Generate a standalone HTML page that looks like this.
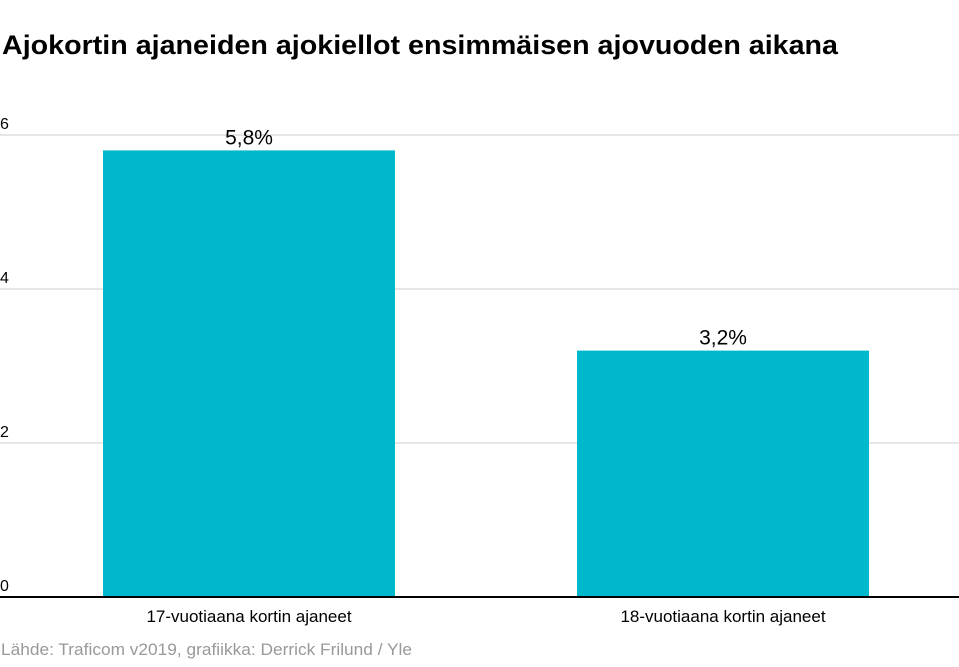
<!DOCTYPE html>
<html><head><meta charset="utf-8"><style>
body{margin:0;background:#fff;width:959px;height:662px;overflow:hidden;font-family:"Liberation Sans",sans-serif}
</style></head><body>
<svg width="959" height="662">
<text x="2" y="54" font-size="27" font-weight="bold" fill="#000" textLength="836" lengthAdjust="spacingAndGlyphs">Ajokortin ajaneiden ajokiellot ensimmäisen ajovuoden aikana</text>
<g id="grid"></g><g id="bars"></g>
<text x="1" y="655" font-size="17" fill="#999" textLength="411" lengthAdjust="spacingAndGlyphs">Lähde: Traficom v2019, grafiikka: Derrick Frilund / Yle</text>
</svg>
<script>
const categories=["17-vuotiaana kortin ajaneet","18-vuotiaana kortin ajaneet"];
const values=[5.8,3.2];
const labels=["5,8%","3,2%"];
const ticks=[0,2,4,6];
const y0=597,pxPerUnit=(597-135)/6;
const y=v=>y0-v*pxPerUnit;
const ns="http://www.w3.org/2000/svg";
const mk=(t,a,p)=>{const e=document.createElementNS(ns,t);for(const k in a)e.setAttribute(k,a[k]);p.appendChild(e);return e;};
const g=document.getElementById('grid'),b=document.getElementById('bars');
ticks.forEach(t=>{
 if(t>0){const l=mk('line',{x1:0,x2:959,y1:y(t),y2:y(t),stroke:'#ccc','stroke-width':1},g);
 
 }
 const tx=mk('text',{x:0,y:y(t)-6,'font-size':16,fill:'#000'},g);tx.textContent=t;
 
 
});
const bx=[103,577],bw=292;
values.forEach((v,i)=>{
 const r=mk('rect',{x:bx[i],y:y(v),width:bw,height:y0-y(v),fill:'#00b8cc'},b);
 
 
 const t=mk('text',{x:bx[i]+bw/2,y:y(v)-6,'font-size':21,'text-anchor':'middle',fill:'#000'},b);t.textContent=labels[i];
 
 
 const c=mk('text',{x:bx[i]+bw/2,y:622,'font-size':17,'text-anchor':'middle',fill:'#000'},b);c.textContent=categories[i];
 
 
});
const ax=mk('line',{x1:0,x2:959,y1:y0,y2:y0,stroke:'#000','stroke-width':2},b);


</script>
</body></html>
